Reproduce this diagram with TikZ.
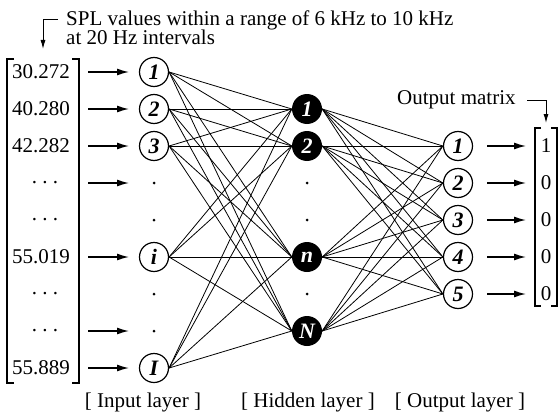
\documentclass[tikz,border=0pt]{standalone}
\usepackage{fontspec}
\setmainfont{Liberation Serif}
\usetikzlibrary{arrows.meta}

\begin{document}
\begin{tikzpicture}[x=1pt, y=-1pt, font=\fontsize{21}{22}\selectfont,
  innode/.style={circle, draw, line width=1.2pt, minimum size=29pt, inner sep=0pt, font=\fontsize{22}{22}\selectfont\bfseries\itshape},
  hidnode/.style={circle, fill=black, minimum size=30pt, inner sep=0pt, text=white, font=\fontsize{22}{22}\selectfont\bfseries\itshape},
  dotnode/.style={circle, fill=black, minimum size=3pt, inner sep=0pt},
  txt/.style={inner sep=0pt},
  feed/.style={-{Latex[length=12pt,width=7pt]}, line width=1.4pt},
  wire/.style={line width=0.8pt}]
\useasboundingbox (0,0) rectangle (559,412);

% title and left bent arrow
\node[txt, anchor=base west] (title1) at (66,26) {SPL values within a range of 6 kHz to 10 kHz};
\node[txt, anchor=base west] (title2) at (66,45) {at 20 Hz intervals};
\coordinate (tl) at (58,20);
\coordinate (tlend) at (43,49);
\draw[-{Latex[length=9pt,width=5pt]}, line width=1pt] (tl) -| (tlend);

% input vector
\foreach \v/\y in {30.272/72, 40.280/109, 42.282/146, 55.019/257, 55.889/368}{
\node[txt] (v\y) at (41,\y) {\v};
}
\foreach \y in {183,220,294,331}{
\node[txt] (v\y) at (45,\y) {.\ .\ .};
}
\draw[line width=1.1pt] (14,59) -- (7,59) -- (7,383) -- (14,383);
\draw[line width=1.1pt] (72,59) -- (79,59) -- (79,383) -- (72,383);
\foreach \y in {72,109,146,183,257,331,368}{
\coordinate (a\y) at (88,\y);
\coordinate (b\y) at (129,\y);
\draw[feed] (a\y) -- (b\y);
}

% input layer
\node[innode] (in1) at (154,72) {1};
\node[innode] (in2) at (154,109) {2};
\node[innode] (in3) at (154,146) {3};
\node[innode] (ini) at (154,257) {i};
\node[innode] (inI) at (154,368) {I};
\foreach \y in {183,220,294,331}{\node[dotnode] (ind\y) at (154,\y) {};}

% hidden layer
\node[hidnode] (h1) at (307,109) {1};
\node[hidnode] (h2) at (307,146) {2};
\node[hidnode] (hn) at (307,257) {n};
\node[hidnode] (hN) at (307,331) {N};
\foreach \y in {183,220,294}{\node[dotnode] (hd\y) at (307,\y) {};}

% output layer
\foreach \i/\y in {1/146,2/183,3/220,4/257,5/294}{
\node[innode] (o\i) at (458,\y) {\i};
\coordinate (c\i) at (487,\y);
\coordinate (d\i) at (526,\y);
\draw[feed] (c\i) -- (d\i);
}

% weights
\foreach \a in {in1,in2,in3,ini,inI}{
\foreach \b in {h1,h2,hn,hN}{\draw[wire] (\a.east) -- (\b.west);}
}
\foreach \a in {h1,h2,hn,hN}{
\foreach \b in {o1,o2,o3,o4,o5}{\draw[wire] (\a.east) -- (\b.west);}
}

% output matrix
\foreach \v/\y in {1/146,0/183,0/220,0/257,0/294}{
\node[txt] (m\y) at (546,\y) {\v};
}
\draw[line width=1.1pt] (541,128) -- (535,128) -- (535,306) -- (541,306);
\draw[line width=1.1pt] (551,128) -- (557,128) -- (557,306) -- (551,306);
\node[txt, anchor=base west] (outlbl) at (397,104) {Output matrix};
\coordinate (tr) at (527,100);
\coordinate (trend) at (546,123);
\draw[-{Latex[length=9pt,width=5pt]}, line width=1pt] (tr) -| (trend);

% layer names
\node[txt, anchor=base] (lin) at (143,407) {[ Input layer ]};
\node[txt, anchor=base] (lhid) at (308,407) {[ Hidden layer ]};
\node[txt, anchor=base] (lout) at (460,407) {[ Output layer ]};
\end{tikzpicture}
\end{document}
